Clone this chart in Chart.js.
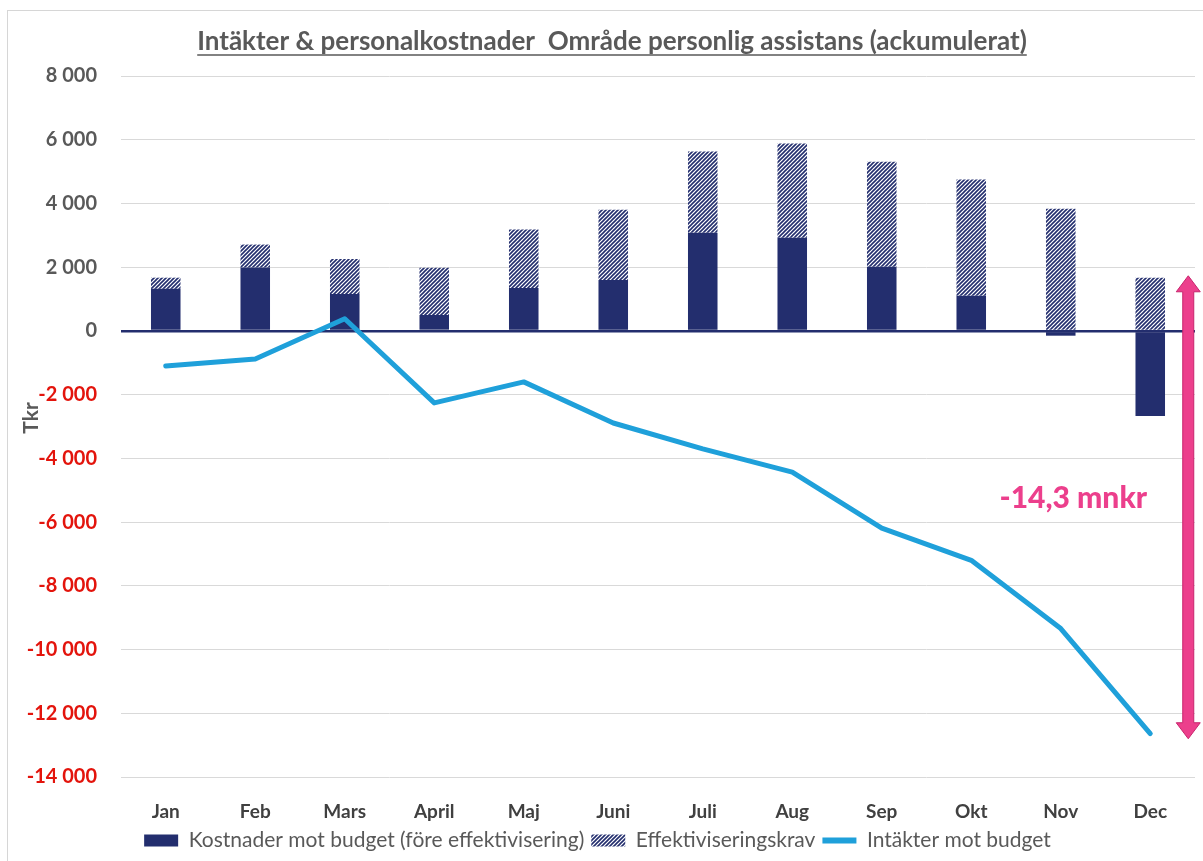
<!DOCTYPE html>
<html>
<head>
<meta charset="utf-8">
<script src="https://cdn.jsdelivr.net/npm/chart.js@4.4.1/dist/chart.umd.min.js"></script>
<style>
  html, body { margin: 0; padding: 0; background: #ffffff; }
  #wrap { position: relative; width: 1203px; height: 861px; overflow: hidden; }
  #frame { position: absolute; left: 7px; top: 10px; width: 1300px; height: 900px; border-left: 1px solid #d6d6d6; border-top: 1px solid #d6d6d6; }
  canvas { position: absolute; left: 0; top: 0; }
</style>
</head>
<body>
<div id="wrap">
  <div id="frame"></div>
  <canvas id="c" width="1203" height="861"></canvas>
</div>
<script>
const titleText = 'Intäkter & personalkostnader  Område personlig assistans (ackumulerat)';
const yAxisTitle = 'Tkr';
const months = ['Jan', 'Feb', 'Mars', 'April', 'Maj', 'Juni', 'Juli', 'Aug', 'Sep', 'Okt', 'Nov', 'Dec'];
const kostnader = [1320, 1990, 1160, 500, 1350, 1600, 3080, 2920, 2010, 1100, -150, -2670];
const effektivisering = [350, 720, 1100, 1480, 1830, 2200, 2550, 2960, 3300, 3650, 3830, 1670];
const intakter = [-1100, -880, 380, -2260, -1600, -2890, -3700, -4430, -6190, -7200, -9340, -12640];
const seriesNames = ['Kostnader mot budget (före effektivisering)', 'Effektiviseringskrav', 'Intäkter mot budget'];
const yMin = -14000, yMax = 8000, yStep = 2000;
const annotationText = '-14,3 mnkr';
const arrowRange = [1730, -12800];
const annotationValue = -5250;

const NAVY = '#232e6e';
const BLUE = '#1fa0da';
const PINK = '#ec3f8c';
const GRAY = '#595959';
const RED = '#e3140c';
const FONT = 'Lato, "Open Sans", sans-serif';

function makeHatch() {
  const s = 4;
  const p = document.createElement('canvas');
  p.width = s; p.height = s;
  const g = p.getContext('2d');
  g.fillStyle = '#ffffff';
  g.fillRect(0, 0, s, s);
  g.strokeStyle = NAVY;
  g.lineWidth = 1.6;
  g.beginPath();
  g.moveTo(-1, s + 1); g.lineTo(s + 1, -1);
  g.moveTo(-1, 1); g.lineTo(1, -1);
  g.moveTo(s - 1, s + 1); g.lineTo(s + 1, s - 1);
  g.stroke();
  return document.getElementById('c').getContext('2d').createPattern(p, 'repeat');
}
const hatch = makeHatch();

function fmt(v) {
  const neg = v < 0;
  const s = Math.abs(v).toString().replace(/\B(?=(\d{3})+(?!\d))/g, ' ');
  return (neg ? '-' : '') + s;
}

const extras = {
  id: 'extras',
  afterDraw(chart) {
    const ctx = chart.ctx;
    const y = chart.scales.y;
    const x = chart.scales.x;
    // title with underline
    ctx.save();
    ctx.font = 'bold 26px ' + FONT;
    ctx.fillStyle = GRAY;
    ctx.textAlign = 'center';
    ctx.textBaseline = 'alphabetic';
    const cx = 612, ty = 50;
    ctx.fillText(titleText, cx, ty);
    const w = ctx.measureText(titleText).width;
    ctx.strokeStyle = GRAY;
    ctx.lineWidth = 1.5;
    ctx.beginPath();
    ctx.moveTo(cx - w / 2, ty + 5);
    ctx.lineTo(cx + w / 2, ty + 5);
    ctx.stroke();
    ctx.restore();

    // y axis title
    ctx.save();
    ctx.translate(31, 418);
    ctx.rotate(-Math.PI / 2);
    ctx.font = 'bold 21px ' + FONT;
    ctx.fillStyle = GRAY;
    ctx.textAlign = 'center';
    ctx.textBaseline = 'middle';
    ctx.fillText(yAxisTitle, 0, 0);
    ctx.restore();

    // double arrow
    const decX = x.getPixelForValue(months.length - 1);
    const ax = decX + 38;
    const yTop = y.getPixelForValue(arrowRange[0]);
    const yBot = y.getPixelForValue(arrowRange[1]);
    const hw = 12, hh = 16, sw = 5.5;
    ctx.save();
    ctx.fillStyle = PINK;
    ctx.strokeStyle = '#c8246c';
    ctx.lineWidth = 1;
    ctx.beginPath();
    ctx.moveTo(ax, yTop);
    ctx.lineTo(ax + hw, yTop + hh);
    ctx.lineTo(ax + sw, yTop + hh);
    ctx.lineTo(ax + sw, yBot - hh);
    ctx.lineTo(ax + hw, yBot - hh);
    ctx.lineTo(ax, yBot);
    ctx.lineTo(ax - hw, yBot - hh);
    ctx.lineTo(ax - sw, yBot - hh);
    ctx.lineTo(ax - sw, yTop + hh);
    ctx.lineTo(ax - hw, yTop + hh);
    ctx.closePath();
    ctx.fill();
    ctx.stroke();
    ctx.font = '900 30px ' + FONT;
    ctx.fillStyle = PINK;
    ctx.textAlign = 'center';
    ctx.textBaseline = 'middle';
    ctx.fillText(annotationText, decX - 77, y.getPixelForValue(annotationValue));
    ctx.restore();
  }
};

new Chart(document.getElementById('c'), {
  type: 'bar',
  data: {
    labels: months,
    datasets: [
      {
        type: 'bar', label: seriesNames[0], data: kostnader,
        backgroundColor: NAVY, stack: 's', order: 2, pointStyle: 'rect',
        barPercentage: 0.33, categoryPercentage: 1
      },
      {
        type: 'bar', label: seriesNames[1], data: effektivisering,
        backgroundColor: hatch, stack: 's', order: 3, pointStyle: 'rect',
        barPercentage: 0.33, categoryPercentage: 1
      },
      {
        type: 'line', label: seriesNames[2], data: intakter,
        borderColor: BLUE, backgroundColor: BLUE, borderWidth: 5,
        pointRadius: 0, tension: 0, order: 1, pointStyle: 'line',
        borderCapStyle: 'round', borderJoinStyle: 'round'
      }
    ]
  },
  options: {
    responsive: false,
    animation: false,
    devicePixelRatio: 1,
    layout: { padding: { top: 76, right: 8, left: 0, bottom: 0 } },
    plugins: {
      title: { display: false },
      tooltip: { enabled: false },
      legend: {
        position: 'bottom',
        labels: {
          usePointStyle: true,
          pointStyleWidth: 34,
          boxWidth: 34,
          boxHeight: 12,
          padding: 7,
          color: GRAY,
          font: { family: FONT, size: 21 },
          sort: (a, b) => a.datasetIndex - b.datasetIndex,
          generateLabels(chart) {
            const items = Chart.defaults.plugins.legend.labels.generateLabels(chart);
            items.forEach(it => {
              if (it.pointStyle === 'line') {
                it.strokeStyle = BLUE;
                it.lineWidth = 6;
              } else {
                it.lineWidth = 0;
                it.strokeStyle = 'rgba(0,0,0,0)';
              }
            });
            return items;
          }
        }
      }
    },
    scales: {
      x: {
        stacked: true,
        grid: { display: false },
        border: { display: false },
        ticks: { color: '#404040', font: { family: FONT, size: 19, weight: 'bold' }, padding: 15 },
        afterFit(s) { s.height = 46; }
      },
      y: {
        stacked: true,
        min: yMin, max: yMax,
        border: { display: false },
        grid: {
          drawTicks: false,
          color: c => c.tick && c.tick.value === 0 ? NAVY : '#d9d9d9',
          lineWidth: c => c.tick && c.tick.value === 0 ? 2.5 : 1
        },
        ticks: {
          stepSize: yStep,
          padding: 24,
          color: c => c.tick.value < 0 ? RED : GRAY,
          font: { family: FONT, size: 20, weight: 'bold' },
          callback: v => fmt(v)
        },
        afterFit(s) { s.width = 121; }
      }
    }
  },
  plugins: [extras]
});
</script>
</body>
</html>
